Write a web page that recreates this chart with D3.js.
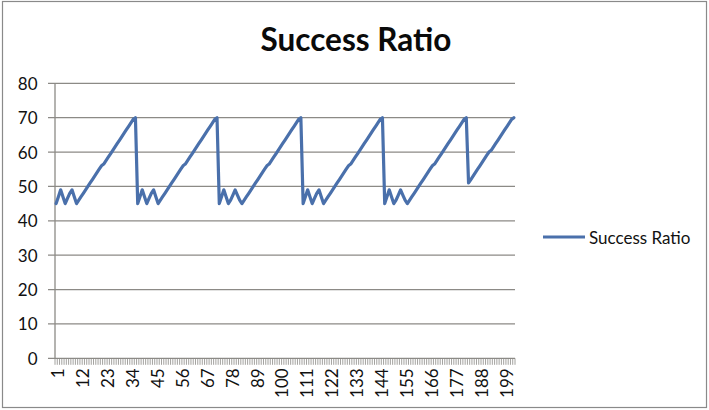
<!DOCTYPE html>
<html>
<head>
<meta charset="utf-8">
<script src="https://cdn.jsdelivr.net/npm/d3@7"></script>
<style>
  html, body { margin: 0; padding: 0; background: #fff; }
  svg { display: block; font-family: Lato, "Open Sans", sans-serif; }
</style>
</head>
<body>
<svg id="chart" width="709" height="410"></svg>
<script>
// Success ratio per run, runs 1..203
const successRatio = [
  45,47,49,47,45,46.5,48,49,47,45,
  46,47,48,49,50,51,52,53,54,55,56,56.5,57.5,58.5,59.5,60.5,61.5,62.5,63.5,64.5,65.5,66.5,67.5,68.5,69.5,70,
  45,47,49,47,45,46.5,48,49,47,45,
  46,47,48,49,50,51,52,53,54,55,56,56.5,57.5,58.5,59.5,60.5,61.5,62.5,63.5,64.5,65.5,66.5,67.5,68.5,69.5,70,
  45,47,49,47,45,46,47.5,49,47.5,46,45,
  46,47,48,49,50,51,52,53,54,55,56,56.5,57.5,58.5,59.5,60.5,61.5,62.5,63.5,64.5,65.5,66.5,67.5,68.5,69.5,70,
  45,47,49,47,45,46.5,48,49,47,45,
  46,47,48,49,50,51,52,53,54,55,56,56.5,57.5,58.5,59.5,60.5,61.5,62.5,63.5,64.5,65.5,66.5,67.5,68.5,69.5,70,
  45,47,49,47,45,46,47.5,49,47.5,46,45,
  46,47,48,49,50,51,52,53,54,55,56,56.5,57.5,58.5,59.5,60.5,61.5,62.5,63.5,64.5,65.5,66.5,67.5,68.5,69.5,70,
  51,52,53,54,55,56,57,58,59,60,60.5,61.5,62.5,63.5,64.5,65.5,66.5,67.5,68.5,69.5,70
];
const runs = successRatio.map((_, i) => i + 1);
const xTickLabels = ["1","12","23","34","45","56","67","78","89","100","111","122","133","144","155","166","177","188","199"];
const yTicks = [0,10,20,30,40,50,60,70,80];
const seriesName = "Success Ratio";
const chartTitle = "Success Ratio";

const svg = d3.select("#chart");
const W = 709, H = 410;
const plot = { left: 55, right: 515, top: 83.3, bottom: 358.3 };

// outer chart border
svg.append("rect")
  .attr("x", 2.5).attr("y", 1.5).attr("width", W - 5).attr("height", H - 4)
  .attr("fill", "#fff").attr("stroke", "#8a8a8a").attr("stroke-width", 1.2);

const x = d3.scaleBand().domain(runs).range([plot.left, plot.right]).padding(0);
const y = d3.scaleLinear().domain([0, 80]).range([plot.bottom, plot.top]);
const bw = x.bandwidth();
const cx = d => x(d) + bw / 2;

// title
svg.append("text")
  .attr("x", 356).attr("y", 51)
  .attr("text-anchor", "middle")
  .attr("font-size", 31.5).attr("font-weight", 700).attr("fill", "#0a0a0a")
  .text(chartTitle);

// horizontal gridlines with outside ticks
const gridColor = "#8c8a86";
svg.append("g").selectAll("line").data(yTicks).join("line")
  .attr("x1", plot.left - 7).attr("x2", plot.right)
  .attr("y1", d => y(d)).attr("y2", d => y(d))
  .attr("stroke", gridColor).attr("stroke-width", 1.3);

// y axis line
svg.append("line")
  .attr("x1", plot.left).attr("x2", plot.left)
  .attr("y1", plot.top).attr("y2", plot.bottom)
  .attr("stroke", gridColor).attr("stroke-width", 1.3);

// y tick labels
svg.append("g").selectAll("text").data(yTicks).join("text")
  .attr("x", 37.5).attr("y", d => y(d))
  .attr("text-anchor", "end").attr("dominant-baseline", "central")
  .attr("font-size", 17).attr("fill", "#111")
  .text(d => d);

// x axis tick marks at every category boundary
const bounds = runs.map(r => x(r)).concat([plot.right]);
svg.append("g").selectAll("line").data(bounds).join("line")
  .attr("x1", d => d).attr("x2", d => d)
  .attr("y1", plot.bottom).attr("y2", plot.bottom + 6.5)
  .attr("stroke", gridColor).attr("stroke-width", 0.8);

// rotated category labels
svg.append("g").selectAll("text").data(xTickLabels).join("text")
  .attr("transform", d => `translate(${cx(+d) + 1.5},${plot.bottom + 10}) rotate(-90)`)
  .attr("text-anchor", "end").attr("dominant-baseline", "central")
  .attr("font-size", 17).attr("fill", "#111")
  .text(d => d);

// series line
const lineColor = "#4a70ab";
const line = d3.line().x((d, i) => cx(runs[i])).y(d => y(d));
svg.append("path")
  .datum(successRatio)
  .attr("d", line)
  .attr("fill", "none").attr("stroke", lineColor)
  .attr("stroke-width", 3.2).attr("stroke-linejoin", "round").attr("stroke-linecap", "round");

// legend
const lg = svg.append("g").attr("transform", "translate(543,237)");
lg.append("line").attr("x1", 0).attr("x2", 42).attr("y1", 0).attr("y2", 0)
  .attr("stroke", lineColor).attr("stroke-width", 3.2);
lg.append("text").attr("x", 46).attr("y", 0.5)
  .attr("dominant-baseline", "central")
  .attr("font-size", 17).attr("fill", "#111")
  .text(seriesName);
</script>
</body>
</html>
